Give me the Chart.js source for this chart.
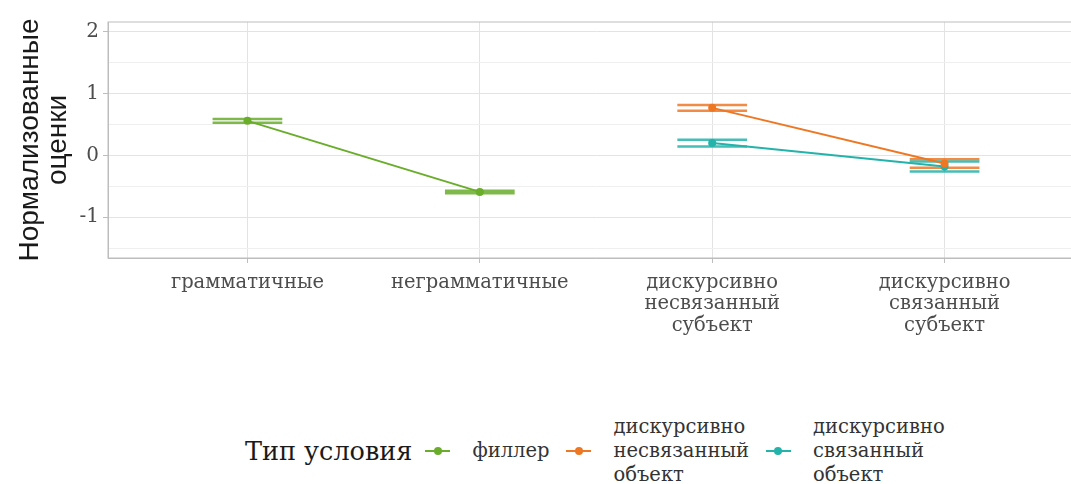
<!DOCTYPE html>
<html>
<head>
<meta charset="utf-8">
<script src="https://cdn.jsdelivr.net/npm/chart.js@4.4.1/dist/chart.umd.min.js"></script>
<style>
    body { margin: 0; width: 1071px; height: 484px; overflow: hidden; background: #fff; position: relative; }
    #myChart { position: absolute; left: 0; top: 0; }
    #legend { position: absolute; left: 245px; top: 415px; display: flex; align-items: center;
              font-family: "DejaVu Serif", serif; color: #1a1a1a; }
    #legend .title { font-size: 25.5px; margin-right: 13px; }
    #legend .item { display: flex; align-items: center; margin-right: 17px; }
    #legend .key { position: relative; width: 25px; height: 10px; margin-right: 22px; }
    #legend .key .ln { position: absolute; left: 0; right: 0; top: 4px; height: 2px; }
    #legend .key .pt { position: absolute; left: 8.5px; top: 1px; width: 8px; height: 8px; border-radius: 50%; }
    #legend .lab { font-size: 19.5px; line-height: 24px; color: #333; }
</style>
</head>
<body>
<canvas id="myChart" width="1090" height="350"></canvas>
<div id="legend"></div>
<script>
const categories = [
    ["грамматичные"],
    ["неграмматичные"],
    ["дискурсивно", "несвязанный", "субъект"],
    ["дискурсивно", "связанный", "субъект"],
];
const xPositions = [1, 2, 3, 4];

const fillerMeans = [0.56, -0.59, null, null];
const fillerErrors = [0.03, 0.02, null, null];
const unrelatedMeans = [null, null, 0.77, -0.13];
const unrelatedErrors = [null, null, 0.045, 0.07];
const relatedMeans = [null, null, 0.2, -0.18];
const relatedErrors = [null, null, 0.055, 0.08];

const seriesNames = [["филлер"], ["дискурсивно", "несвязанный", "объект"], ["дискурсивно", "связанный", "объект"]];
const legendTitle = "Тип условия";
const yTitle = ["Нормализованные", "оценки"];

const yTicks = [-1, 0, 1, 2];
const yMinorTicks = [-1.5, -0.5, 0.5, 1.5];

const colors = ["#6aad2b", "#ee7724", "#24b3aa"];

const toPoints = (means, errors) =>
    xPositions
        .map((x, i) => ({ x: x, y: means[i], err: errors[i] }))
        .filter(p => p.y !== null);

// caps of error bars, drawn under the lines
const errorBars = {
    id: "errorBars",
    beforeDatasetsDraw(chart) {
        const { ctx, scales } = chart;
        ctx.save();
        ctx.globalAlpha = 0.85;
        ctx.lineWidth = 2.5;
        chart.data.datasets.forEach(ds => {
            ctx.strokeStyle = ds.borderColor;
            ds.data.forEach(p => {
                const x0 = scales.x.getPixelForValue(p.x - 0.15);
                const x1 = scales.x.getPixelForValue(p.x + 0.15);
                const xc = scales.x.getPixelForValue(p.x);
                const yt = scales.y.getPixelForValue(p.y + p.err);
                const yb = scales.y.getPixelForValue(p.y - p.err);
                ctx.beginPath();
                ctx.moveTo(x0, yt); ctx.lineTo(x1, yt);
                ctx.moveTo(x0, yb); ctx.lineTo(x1, yb);
                ctx.moveTo(xc, yt); ctx.lineTo(xc, yb);
                ctx.stroke();
            });
        });
        ctx.restore();
    },
};

const panelBorder = {
    id: "panelBorder",
    afterDraw(chart) {
        const { ctx, chartArea: a } = chart;
        ctx.save();
        ctx.strokeStyle = "#bdbdbd";
        ctx.lineWidth = 1;
        ctx.strokeRect(a.left, a.top, a.right - a.left, a.bottom - a.top);
        ctx.restore();
    },
};

const makeDataset = (i, means, errors) => ({
    label: seriesNames[i].join(" "),
    data: toPoints(means, errors),
    borderColor: colors[i],
    backgroundColor: colors[i],
    borderWidth: 2,
    pointRadius: 4,
    pointBorderWidth: 0,
    tension: 0,
});

const ctx = document.getElementById("myChart").getContext("2d");
const chart = new Chart(ctx, {
    type: "line",
    data: {
        datasets: [
            makeDataset(0, fillerMeans, fillerErrors),
            makeDataset(1, unrelatedMeans, unrelatedErrors),
            makeDataset(2, relatedMeans, relatedErrors),
        ],
    },
    options: {
        responsive: false,
        animation: false,
        layout: { padding: { top: 22, right: 6, left: 0, bottom: 0 } },
        plugins: { legend: { display: false }, tooltip: { enabled: false } },
        scales: {
            x: {
                type: "linear",
                min: 0.4,
                max: 4.6,
                afterBuildTicks: s => { s.ticks = xPositions.map(v => ({ value: v })); },
                afterFit: s => { s.height = 92; },
                ticks: {
                    autoSkip: false,
                    maxRotation: 0,
                    padding: 9,
                    color: "#4d4d4d",
                    font: { family: "DejaVu Serif", size: 19.5, lineHeight: 1.1 },
                    callback: v => categories[v - 1],
                },
                grid: { color: "#e3e3e3", tickColor: "#bdbdbd", tickLength: 5 },
                border: { color: "#bdbdbd" },
            },
            y: {
                min: -1.66,
                max: 2.16,
                afterBuildTicks: s => {
                    s.ticks = yTicks.concat(yMinorTicks).sort((a, b) => a - b).map(v => ({ value: v }));
                },
                afterFit: s => { s.width = 108; },
                ticks: {
                    padding: 4,
                    color: "#4d4d4d",
                    font: { family: "DejaVu Serif", size: 20 },
                    callback: v => (yTicks.includes(v) ? String(v) : ""),
                },
                grid: {
                    color: c => (yTicks.includes(c.tick.value) ? "#e3e3e3" : "#efefef"),
                    tickColor: c => (yTicks.includes(c.tick.value) ? "#bdbdbd" : "rgba(0,0,0,0)"),
                    tickLength: 5,
                },
                border: { color: "#bdbdbd" },
                title: {
                    display: true,
                    text: yTitle,
                    color: "#1a1a1a",
                    font: { family: "Liberation Sans", size: 28, lineHeight: 1.0 },
                    padding: { top: 16, bottom: 0 },
                },
            },
        },
    },
    plugins: [errorBars, panelBorder],
});

// legend below the plot
const legend = document.getElementById("legend");
let html = `<span class="title">${legendTitle}</span>`;
seriesNames.forEach((name, i) => {
    html += `<span class="item"><span class="key"><span class="ln" style="background:${colors[i]}"></span>` +
        `<span class="pt" style="background:${colors[i]}"></span></span>` +
        `<span class="lab">${name.join("<br>")}</span></span>`;
});
legend.innerHTML = html;
</script>
</body>
</html>
